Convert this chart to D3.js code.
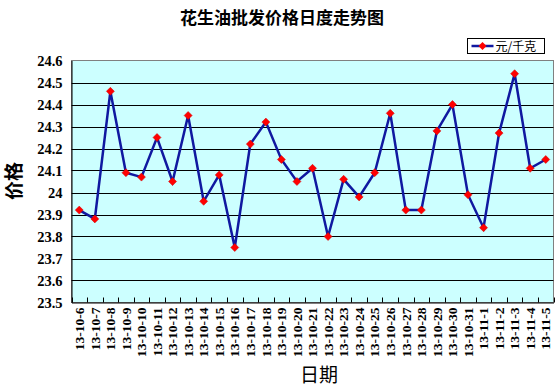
<!DOCTYPE html>
<html><head><meta charset="utf-8">
<script src="https://cdn.jsdelivr.net/npm/d3@7"></script>
<style>html,body{margin:0;padding:0;background:#fff;}svg{display:block;}</style>
</head><body>
<svg id="c" width="558" height="389"></svg>
<script>
const categories = ["13-10-6","13-10-7","13-10-8","13-10-9","13-10-10","13-10-11","13-10-12","13-10-13","13-10-14","13-10-15","13-10-16","13-10-17","13-10-18","13-10-19","13-10-20","13-10-21","13-10-22","13-10-23","13-10-24","13-10-25","13-10-26","13-10-27","13-10-28","13-10-29","13-10-30","13-10-31","13-11-1","13-11-2","13-11-3","13-11-4","13-11-5"];
const prices = [23.92,23.88,24.46,24.09,24.07,24.25,24.05,24.35,23.96,24.08,23.75,24.22,24.32,24.15,24.05,24.11,23.80,24.06,23.98,24.09,24.36,23.92,23.92,24.28,24.40,23.99,23.84,24.27,24.54,24.11,24.15];
const yTicks = [23.5,23.6,23.7,23.8,23.9,24,24.1,24.2,24.3,24.4,24.5,24.6];
const seriesName = "元/千克";
const title = "花生油批发价格日度走势图";
const xTitle = "日期";
const yTitle = "价格";

const svg = d3.select("#c");
const L = 71.5, R = 553.5, T = 60.5, B = 302.5;
const x = d3.scaleBand().domain(categories).range([L, R]);
const y = d3.scaleLinear().domain([23.5, 24.6]).range([B, T]);

svg.append("rect").attr("x", L).attr("y", T).attr("width", R - L).attr("height", B - T)
  .attr("fill", "#CCFFFF").attr("stroke", "#808080").attr("stroke-width", 1);

svg.append("g").selectAll("line").data(yTicks.slice(1, -1)).join("line")
  .attr("x1", L).attr("x2", R).attr("y1", d => Math.round(y(d)) + 0.5).attr("y2", d => Math.round(y(d)) + 0.5)
  .attr("stroke", "#000").attr("stroke-width", 1);

const yAxis = d3.axisLeft(y).tickValues(yTicks).tickSize(0).tickPadding(9).tickFormat(d => d === 24 ? "24" : d3.format(".1f")(d));
const gy = svg.append("g").attr("transform", `translate(${L},0)`).call(yAxis);
gy.select(".domain").attr("stroke", "#000");
gy.selectAll("text").attr("font-family", "'Liberation Serif', serif").attr("font-weight", "bold").attr("font-size", 14.5).attr("fill", "#000");

const xAxis = d3.axisBottom(x).tickSize(0).tickPadding(0);
const gx = svg.append("g").attr("transform", `translate(0,${B})`).call(xAxis);
gx.select(".domain").attr("stroke", "#000");
gx.selectAll("text")
  .attr("transform", "rotate(-90)")
  .attr("text-anchor", "end").attr("dy", "0.35em").attr("x", -5).attr("y", 0)
  .attr("font-family", "'Liberation Serif', serif").attr("font-weight", "bold").attr("font-size", 13.5).attr("fill", "#000");
const bounds = categories.map(c => x(c)).concat([R]);
svg.append("g").selectAll("line").data(bounds).join("line")
  .attr("x1", d => Math.round(d) + 0.5).attr("x2", d => Math.round(d) + 0.5)
  .attr("y1", B).attr("y2", B - 5).attr("stroke", "#000");

const cx = c => x(c) + x.bandwidth() / 2;
const line = d3.line().x((d, i) => cx(categories[i])).y(d => y(d));
svg.append("path").datum(prices).attr("d", line).attr("fill", "none")
  .attr("stroke", "#1018A0").attr("stroke-width", 2.5);

const dm = "M0,-4L4,0L0,4L-4,0Z";
svg.append("g").selectAll("path").data(prices).join("path")
  .attr("transform", (d, i) => `translate(${cx(categories[i])},${y(d)})`)
  .attr("d", dm).attr("fill", "#FF0000").attr("stroke", "#D00000").attr("stroke-width", 0.5);

svg.append("text").attr("x", 282).attr("y", 24).attr("text-anchor", "middle")
  .attr("font-family", "'Noto Sans CJK SC', sans-serif").attr("font-weight", "bold").attr("font-size", 17).attr("fill", "#000").text(title);

svg.append("text").attr("transform", "translate(21,181) rotate(-90)").attr("text-anchor", "middle")
  .attr("font-family", "'Noto Sans CJK SC', sans-serif").attr("font-weight", "bold").attr("font-size", 19).attr("fill", "#000").text(yTitle);
svg.append("text").attr("x", 319).attr("y", 382).attr("text-anchor", "middle")
  .attr("font-family", "'Noto Sans CJK SC', sans-serif").attr("font-size", 19).attr("fill", "#000").text(xTitle);

const lg = svg.append("g").attr("transform", "translate(467.5,38.5)");
lg.append("rect").attr("width", 77).attr("height", 15).attr("fill", "#fff").attr("stroke", "#000");
lg.append("line").attr("x1", 4).attr("x2", 26).attr("y1", 7.5).attr("y2", 7.5).attr("stroke", "#1018A0").attr("stroke-width", 2.5);
lg.append("path").attr("transform", "translate(15,7.5)").attr("d", dm).attr("fill", "#FF0000");
lg.append("text").attr("x", 28).attr("y", 12).attr("font-family", "'Noto Sans CJK SC', sans-serif").attr("font-size", 12).attr("fill", "#000").text(seriesName);
</script>
</body></html>
